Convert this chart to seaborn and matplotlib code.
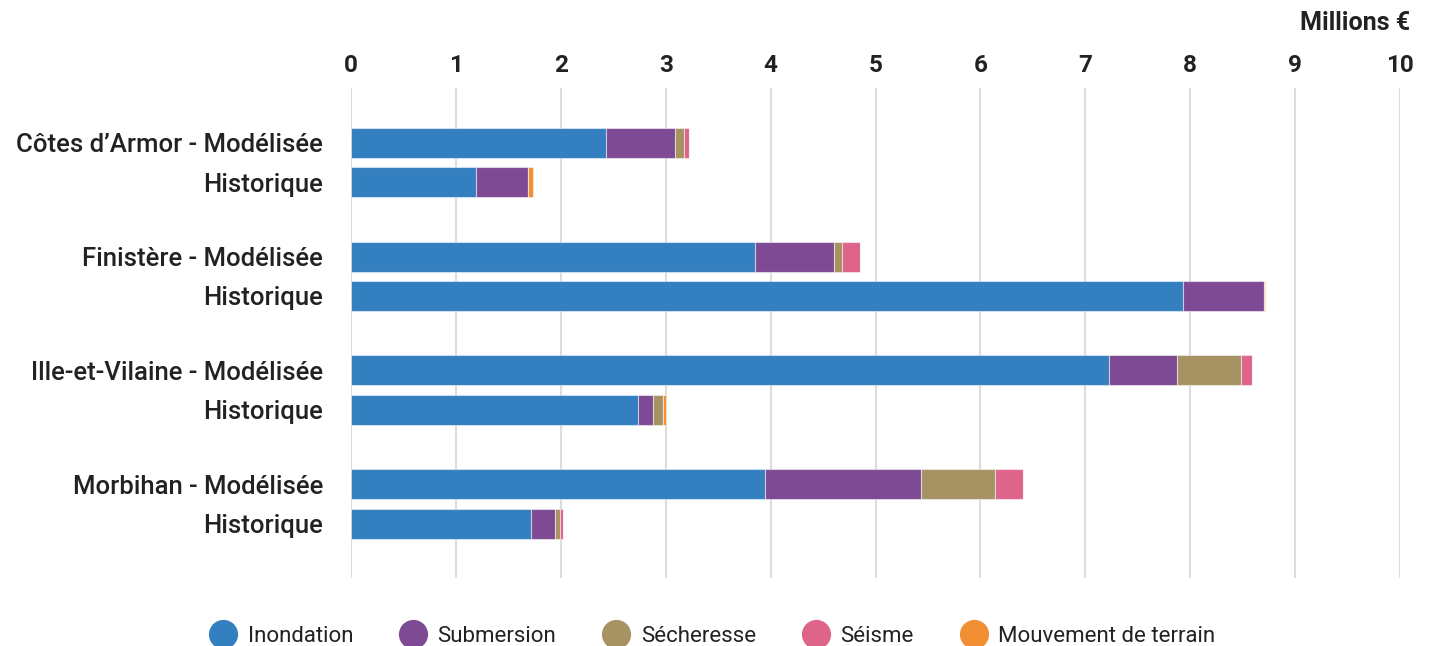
import numpy as np
import pandas as pd
import matplotlib
matplotlib.use("Agg")
import matplotlib.pyplot as plt
import seaborn as sns
from matplotlib.lines import Line2D

# ---- data ----
categories = ["Côtes d’Armor - Modélisée", "Historique",
              "Finistère - Modélisée", "Historique",
              "Ille-et-Vilaine - Modélisée", "Historique",
              "Morbihan - Modélisée", "Historique"]
series_names = ["Inondation", "Submersion", "Sécheresse", "Séisme", "Mouvement de terrain"]
inondation = [2.43, 1.19, 3.85, 7.93, 7.23, 2.74, 3.95, 1.72]
submersion = [0.66, 0.50, 0.75, 0.77, 0.64, 0.14, 1.48, 0.22]
secheresse = [0.08, 0.00, 0.08, 0.00, 0.61, 0.095, 0.71, 0.05]
seisme = [0.05, 0.00, 0.17, 0.00, 0.11, 0.00, 0.27, 0.03]
mouvement = [0.00, 0.045, 0.00, 0.01, 0.00, 0.025, 0.00, 0.00]
x_ticks = [0, 1, 2, 3, 4, 5, 6, 7, 8, 9, 10]
unit_label = "Millions €"

colors = ["#337FC0", "#7F4A94", "#A69263", "#DE648A", "#F28E33"]

sns.set_theme(style="white")
plt.rcParams['font.family'] = ['Roboto', 'DejaVu Sans']

df = pd.DataFrame({"cat": categories, series_names[0]: inondation, series_names[1]: submersion,
                   series_names[2]: secheresse, series_names[3]: seisme, series_names[4]: mouvement})

fig = plt.figure(figsize=(14.38, 6.46), dpi=100)
ax = fig.add_axes([351/1438, 1-578/646, (1400-351)/1438, (578-88)/646])

# layout positions (pairs with gaps between groups)
ypos = np.array([0, 1, 2.89, 3.89, 5.78, 6.78, 8.67, 9.67])
left = np.zeros(len(categories))
for name, col in zip(series_names, colors):
    vals = df[name].values
    ax.barh(ypos, vals, left=left, height=0.76, color=col, edgecolor=(1, 1, 1, 0.5),
            linewidth=0.8, zorder=3)
    left += vals

ax.set_ylim(11.05, -1.39)
ax.set_xlim(0, 10)
ax.set_xticks(x_ticks)
ax.set_xticklabels([str(t) for t in x_ticks], fontsize=17.5, fontweight='bold', color='#222222')
ax.xaxis.tick_top()
ax.tick_params(axis='x', length=0, pad=8)
ax.set_yticks(ypos)
ax.set_yticklabels(categories, fontsize=18.5, fontweight='medium', color='#222222')
ax.tick_params(axis='y', length=0, pad=20)
ax.grid(axis='x', color='#dddddd', linewidth=1.5, zorder=0)
for s in ax.spines.values():
    s.set_visible(False)

fig.text(1410/1438, 1-23/646, unit_label, ha='right', va='center', fontsize=18,
         fontweight='bold', color='#222222')

handles = [Line2D([0], [0], marker='o', linestyle='', markersize=20, markerfacecolor=c,
                  markeredgecolor=c) for c in colors]
leg = fig.legend(handles, series_names, loc='center', bbox_to_anchor=(0.4955, 10/646),
                 bbox_transform=fig.transFigure, ncol=5, frameon=False, fontsize=16,
                 handletextpad=0.5, columnspacing=2.1, handlelength=1.2)
for t in leg.get_texts():
    t.set_color('#222222')

fig.savefig("out.png", dpi=100)
